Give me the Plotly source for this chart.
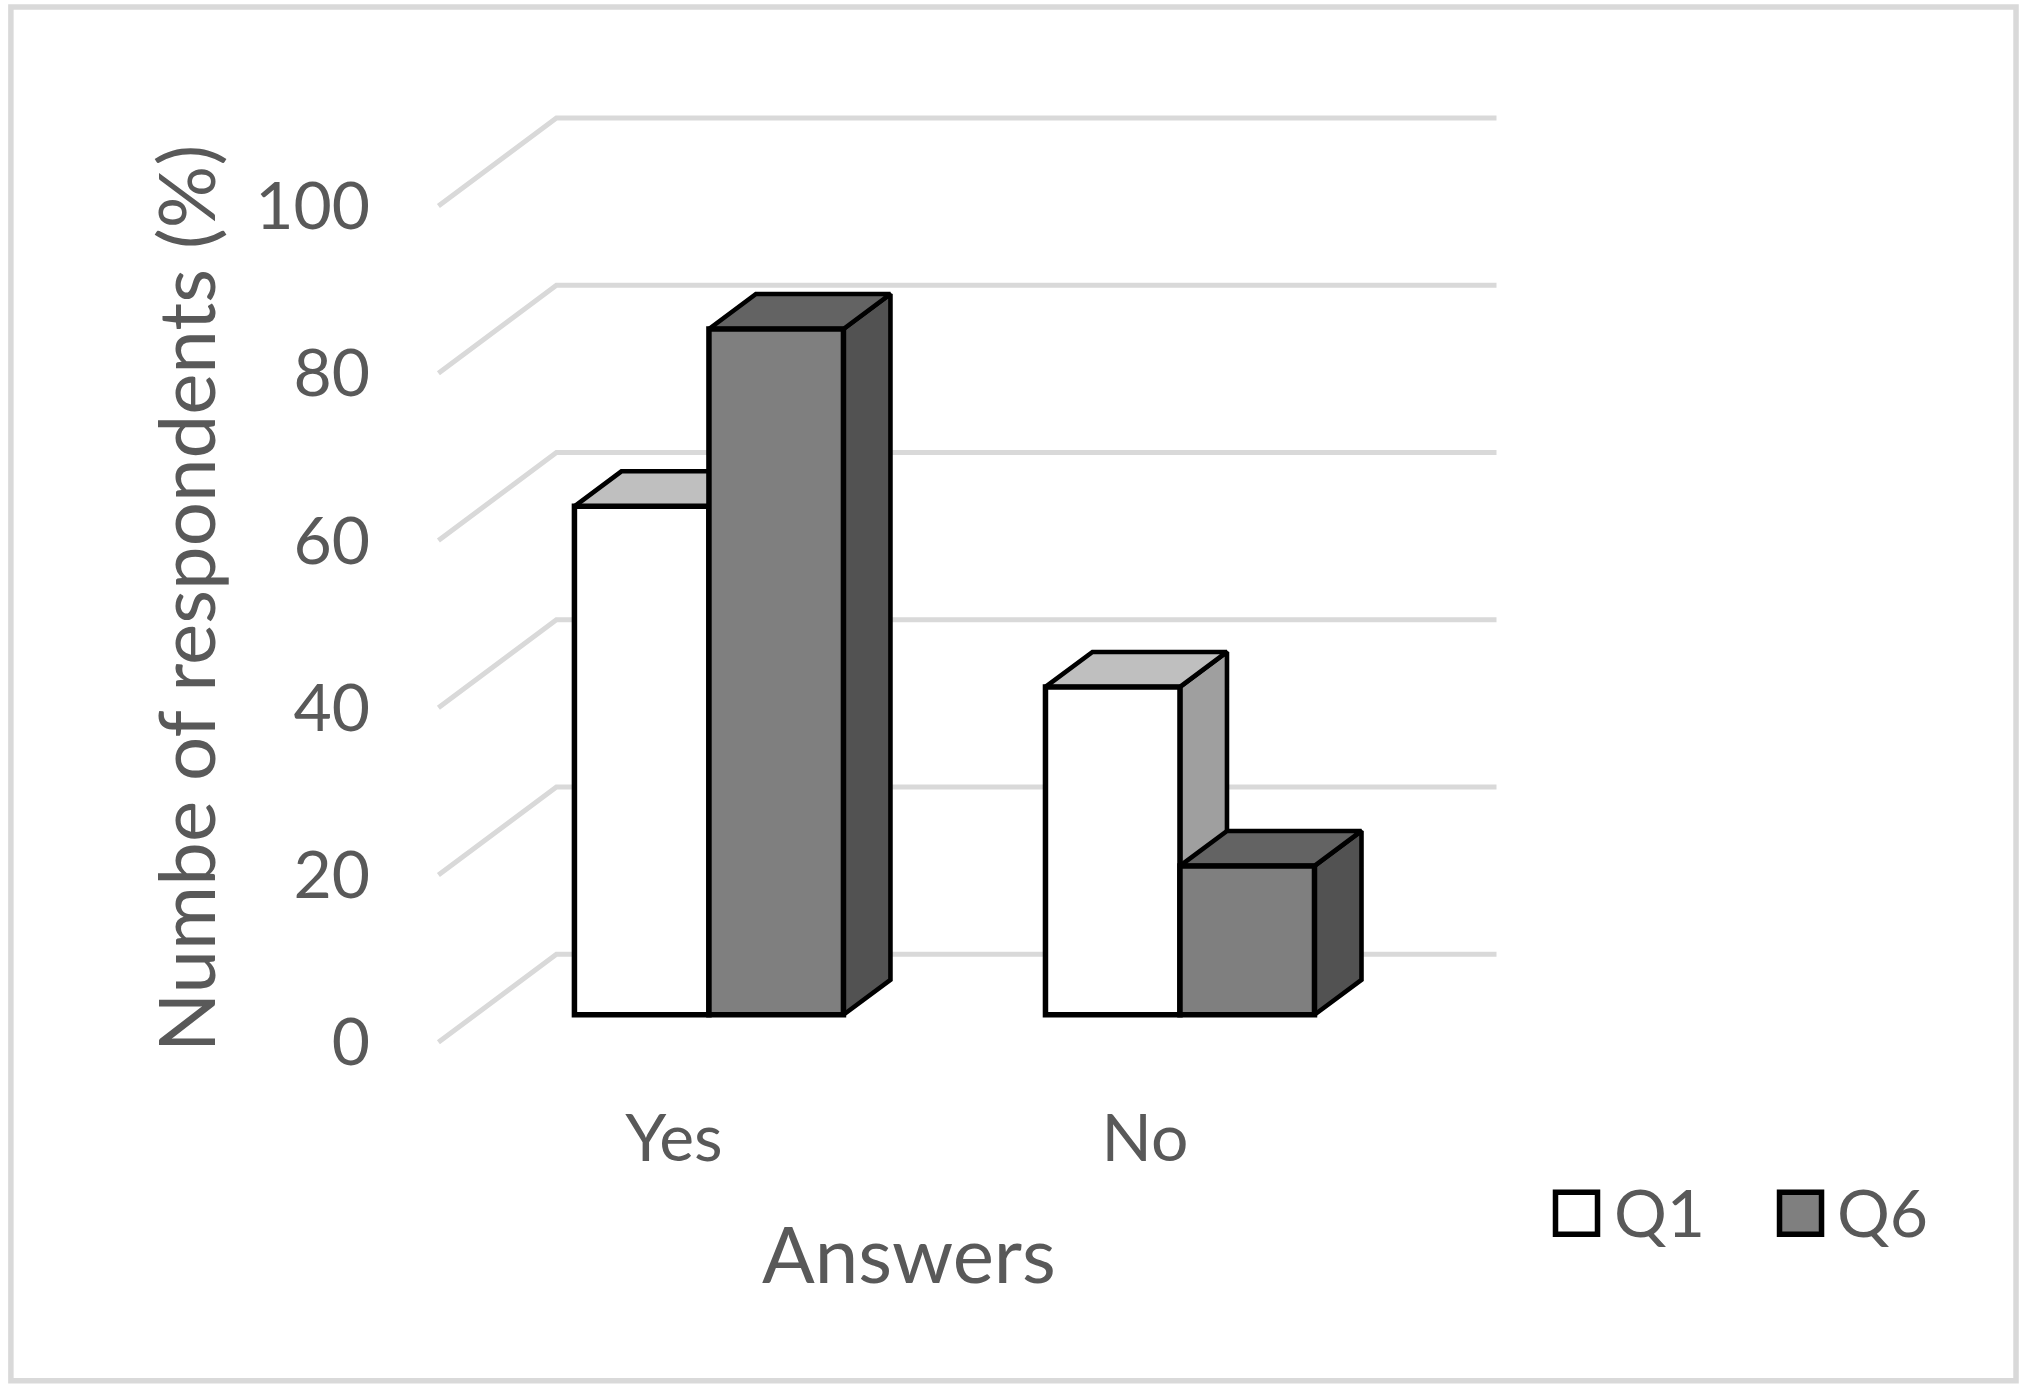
import plotly.graph_objects as go

categories = ["Yes", "No"]
q1_values = [60.8, 39.2]
q6_values = [82.0, 17.8]
y_ticks = [0, 20, 40, 60, 80, 100]
y_title = "Numbe of respondents (%)"
x_title = "Answers"

W, H = 2028, 1388
PX_X, PX_Y = 471.0, 8.365                     # pixels per category, pixels per percent
X0_PX, Y0_PX = 438.5, 1042.5                  # pixel of x=-0.5 and of y=0
PL, PR, PT, PB = 429.08, 1504, 96, 1059.23    # plot rectangle in pixels
X_RANGE = [-0.5 - (X0_PX - PL) / PX_X, -0.5 + (PR - X0_PX) / PX_X]
Y_RANGE = [-(PB - Y0_PX) / PX_Y, (Y0_PX - PT) / PX_Y]

FONT = "Lato"
TXT = "#595959"
GRID = "#d9d9d9"
EDGE = "black"

# projection offsets
FLOOR_DX, FLOOR_DY = 118 / PX_X, 88 / PX_Y
GRID_END = -0.5 + (1496.5 - X0_PX) / PX_X
BAR_SHIFT_X, BAR_BASE = 35 / PX_X, 27.5 / PX_Y
BAR_DX, BAR_DY = 47 / PX_X, 35 / PX_Y
BAR_W = 134.5 / PX_X

fig = go.Figure()

# back wall / floor gridlines
gx, gy = [], []
for t in y_ticks:
    gx += [-0.5, -0.5 + FLOOR_DX, GRID_END, None]
    gy += [t, t + FLOOR_DY, t + FLOOR_DY, None]
fig.add_trace(go.Scatter(x=gx, y=gy, mode="lines", line=dict(color=GRID, width=5),
                         showlegend=False, hoverinfo="skip"))


def poly(xs, ys, color):
    fig.add_trace(go.Scatter(x=xs + xs[:1], y=ys + ys[:1], mode="lines", fill="toself",
                             fillcolor=color, line=dict(color=EDGE, width=4.6),
                             showlegend=False, hoverinfo="skip"))


# top and side faces, projected from the values
series = [("Q1", q1_values, "white", "#bfbfbf", "#9f9f9f", -BAR_W),
          ("Q6", q6_values, "#7f7f7f", "#636363", "#525252", 0)]
for i in range(len(categories)):
    for name, vals, front, top, side, off in series:
        x0 = i + BAR_SHIFT_X + off
        x1 = x0 + BAR_W
        y1 = vals[i] + BAR_BASE
        poly([x1, x1 + BAR_DX, x1 + BAR_DX, x1],
             [BAR_BASE, BAR_BASE + BAR_DY, y1 + BAR_DY, y1], side)
        poly([x0, x0 + BAR_DX, x1 + BAR_DX, x1],
             [y1, y1 + BAR_DY, y1 + BAR_DY, y1], top)

# front faces on an overlay subplot so they sit above the depth faces
positions = [i + BAR_SHIFT_X for i in range(len(categories))]
for name, vals, front, top, side, off in series:
    fig.add_trace(go.Bar(x=positions, y=vals, base=BAR_BASE, width=BAR_W, offset=off, name=name,
                         marker=dict(color=front, line=dict(color=EDGE, width=5.5)),
                         xaxis="x2", yaxis="y2", showlegend=False))

tick_font = dict(family=FONT, size=66, color=TXT)
title_font = dict(family=FONT, size=78, color=TXT)


def px(x):
    return (x - PL) / (PR - PL)


def py(y):
    return (PB - y) / (PB - PT)


shapes = [dict(type="rect", xref="paper", yref="paper", x0=px(11), x1=px(2016), y0=py(7), y1=py(1381),
               line=dict(color=GRID, width=5.5), layer="below")]
annotations = [
    dict(text=x_title, xref="paper", yref="paper", x=px(909.5), y=py(1253.5), xanchor="center", yanchor="middle",
         showarrow=False, font=title_font),
    dict(text=y_title, xref="paper", yref="paper", x=px(184.5), y=py(598), xanchor="center", yanchor="middle",
         textangle=-90, showarrow=False, font=title_font),
]
for (name, vals, front, *_), (sx, tx) in zip(series, [(1553, 1612), (1777, 1835)]):
    shapes.append(dict(type="rect", xref="paper", yref="paper", x0=px(sx + 2.5), x1=px(sx + 44.5),
                       y0=py(1192.5), y1=py(1234.5), fillcolor=front, line=dict(color=EDGE, width=5.5)))
    annotations.append(dict(text=name, xref="paper", yref="paper", x=px(tx), y=py(1212), xanchor="left",
                            yanchor="middle", showarrow=False, font=tick_font))

fig.update_layout(
    width=W, height=H,
    margin=dict(l=PL, r=W - PR, t=PT, b=H - PB, pad=0),
    paper_bgcolor="white", plot_bgcolor="rgba(0,0,0,0)",
    barmode="overlay", showlegend=False, shapes=shapes, annotations=annotations,
    xaxis=dict(range=X_RANGE, tickmode="array", tickvals=list(range(len(categories))), ticktext=categories,
               showgrid=False, zeroline=False, showline=False, ticks="", tickfont=tick_font,
               ticklabelstandoff=35),
    yaxis=dict(range=Y_RANGE, tickmode="array", tickvals=y_ticks, showgrid=False, zeroline=False,
               showline=False, ticks="", tickfont=tick_font, ticklabelstandoff=58),
    xaxis2=dict(range=X_RANGE, overlaying="x", visible=False),
    yaxis2=dict(range=Y_RANGE, overlaying="y", visible=False),
)

fig.write_html("out.html", config=dict(displayModeBar=False),
               post_script="document.body.style.margin='0';document.body.style.overflow='hidden';")
